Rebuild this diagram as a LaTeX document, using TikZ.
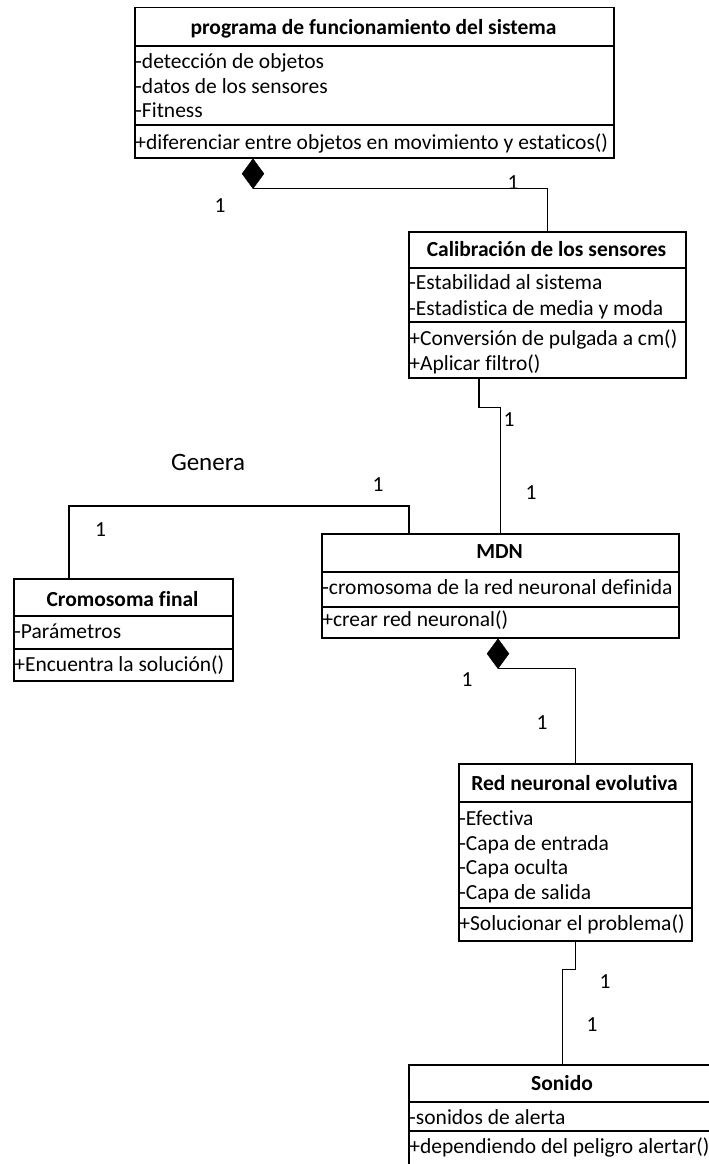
\documentclass[tikz,border=0pt]{standalone}
\usepackage{fontspec}
\setmainfont{Carlito}[Ligatures=NoCommon]
\usetikzlibrary{shapes.geometric,calc}

\tikzset{
  classbox/.style={draw, line width=1.5pt, rectangle, inner sep=0pt, anchor=north west},
  sep/.style={line width=1.5pt},
  conn/.style={line width=1.1pt},
  attr/.style={anchor=base west, inner sep=0pt, inner xsep=1.2pt,
               font=\fontsize{21.5}{25}\selectfont},
  ctitle/.style={anchor=base, inner sep=0pt,
                 font=\fontsize{21.5}{25}\selectfont\bfseries},
  mult/.style={inner sep=0pt, font=\fontsize{21.5}{25}\selectfont},
  diam/.style={diamond, fill=black, draw=black, inner sep=0pt,
               minimum width=22pt, minimum height=30pt, anchor=north},
}

\begin{document}
\begin{tikzpicture}[x=1pt,y=-1pt]
\useasboundingbox (0,0) rectangle (709,1164);
\clip (0,0) rectangle (709,1164);

% ---- programa de funcionamiento del sistema
\node[classbox, minimum width=479pt, minimum height=150pt] (prog) at (134,7) {};
\draw[sep] (134,46) -- (613,46);
\draw[sep] (134,125) -- (613,125);
\node[ctitle] (progT) at (373.5,34.5) {programa de funcionamiento del sistema};
\node[attr] (progA1) at (134,68.9) {-detección de objetos};
\node[attr] (progA2) at (134,93.4) {-datos de los sensores};
\node[attr] (progA3) at (134,117.9) {-Fitness};
\node[attr] (progM1) at (134,149.2) {+diferenciar entre objetos en movimiento y estaticos()};

% ---- Calibración de los sensores
\node[classbox, minimum width=277pt, minimum height=146pt] (calib) at (408,231) {};
\draw[sep] (408,268) -- (685,268);
\draw[sep] (408,322) -- (685,322);
\node[ctitle] (calibT) at (546.5,256.5) {Calibración de los sensores};
\node[attr] (calibA1) at (408,289.9) {-Estabilidad al sistema};
\node[attr] (calibA2) at (408,315.5) {-Estadistica de media y moda};
\node[attr] (calibM1) at (408,345.5) {+Conversión de pulgada a cm()};
\node[attr] (calibM2) at (408,370.5) {+Aplicar filtro()};

% ---- MDN
\node[classbox, minimum width=357pt, minimum height=104pt] (mdn) at (321,533) {};
\draw[sep] (321,572) -- (678,572);
\draw[sep] (321,607) -- (678,607);
\node[ctitle] (mdnT) at (499.5,558.9) {MDN};
\node[attr] (mdnA1) at (321,594.9) {-cromosoma de la red neuronal definida};
\node[attr] (mdnM1) at (321,626.5) {+crear red neuronal()};

% ---- Cromosoma final
\node[classbox, minimum width=219pt, minimum height=102pt] (cromo) at (13,578) {};
\draw[sep] (13,616) -- (232,616);
\draw[sep] (13,649) -- (232,649);
\node[ctitle] (cromoT) at (122.5,606.2) {Cromosoma final};
\node[attr] (cromoA1) at (13,638.9) {-Parámetros};
\node[attr] (cromoM1) at (13,671.5) {+Encuentra la solución()};

% ---- Red neuronal evolutiva
\node[classbox, minimum width=233pt, minimum height=177pt] (red) at (458,763) {};
\draw[sep] (458,802) -- (691,802);
\draw[sep] (458,908) -- (691,908);
\node[ctitle] (redT) at (574.5,790.5) {Red neuronal evolutiva};
\node[attr] (redA1) at (458,825.5) {-Efectiva};
\node[attr] (redA2) at (458,850) {-Capa de entrada};
\node[attr] (redA3) at (458,874.5) {-Capa oculta};
\node[attr] (redA4) at (458,899.2) {-Capa de salida};
\node[attr] (redM1) at (458,930.5) {+Solucionar el problema()};

% ---- Sonido
\node[classbox, minimum width=308pt, minimum height=102pt] (son) at (408,1064) {};
\draw[sep] (408,1102) -- (716,1102);
\draw[sep] (408,1131) -- (716,1131);
\node[ctitle] (sonT) at (562,1090.5) {Sonido};
\node[attr] (sonA1) at (408,1124.9) {-sonidos de alerta};
\node[attr] (sonM1) at (408,1153.9) {+dependiendo del peligro alertar()};

% ---- composition diamonds
\node[diam] (d1) at ($(prog.south west)+(119,0)$) {};
\node[diam] (d2) at ($(mdn.south west)+(177,0)$) {};

% ---- connectors
\draw[conn] (d1.south) -| (calib.north);
\draw[conn] ($(calib.south west)+(71,0)$) -- ++(0,29) -| (mdn.north);
\draw[conn] ($(cromo.north west)+(56,0)$) |- ($(mdn.north west)+(88,-27)$)
            -- ($(mdn.north west)+(88,0)$);
\draw[conn] (d2.south) -| (red.north);
\draw[conn] (red.south) -- ++(0,28) -| (son.north);

% ---- multiplicities and association name
\node[mult] (m1) at (220,206) {1};
\node[mult] (m2) at (513,183) {1};
\node[mult] (m3) at (509,420) {1};
\node[mult] (m4) at (531,493) {1};
\node[mult] (m5) at (378,485) {1};
\node[mult] (m6) at (100.5,530) {1};
\node[inner sep=0pt, font=\fontsize{25}{30}\selectfont] (gen) at (208,462) {Genera};
\node[mult] (m7) at (467,680) {1};
\node[mult] (m8) at (542,723) {1};
\node[mult] (m9) at (605,982) {1};
\node[mult] (m10) at (592,1025) {1};
\end{tikzpicture}
\end{document}
